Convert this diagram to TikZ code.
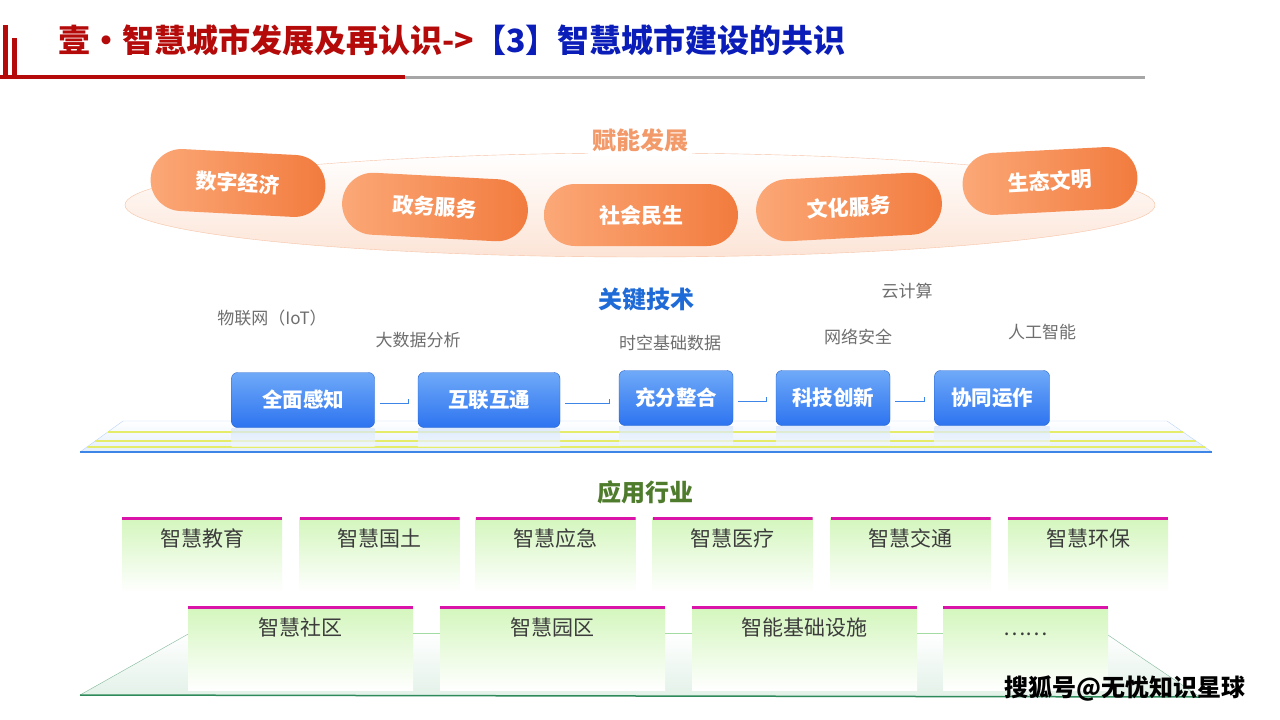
\documentclass[tikz,border=0pt]{standalone}
\usepackage{fontspec}
\setmainfont{Noto Sans CJK SC}
\usetikzlibrary{shapes.misc,calc}
\definecolor{titlered}{HTML}{B50A0A}
\definecolor{titleblue}{HTML}{0B1DB8}
\definecolor{pilllt}{HTML}{FBA877}
\definecolor{pilldk}{HTML}{F27B3E}
\definecolor{ellline}{HTML}{F7C3A6}
\definecolor{ellfill}{HTML}{FCE4D6}
\definecolor{headorange}{HTML}{F39A6A}
\definecolor{headblue}{HTML}{1E6AD6}
\definecolor{headgreen}{HTML}{4F7C2C}
\definecolor{techgrey}{HTML}{6E6E6E}
\definecolor{boxlt}{HTML}{6FA9F8}
\definecolor{boxdk}{HTML}{2D74F0}
\definecolor{platline}{HTML}{3D86E8}
\definecolor{platfill}{HTML}{E2EEFA}
\definecolor{stripe}{HTML}{E4EC6A}
\definecolor{tilegreen}{HTML}{D3F6BC}
\definecolor{tiletop}{HTML}{DA14A8}
\definecolor{tiletext}{HTML}{3C3C3C}
\definecolor{groundline}{HTML}{2E8A5A}
\definecolor{groundfill}{HTML}{E2F1E8}

\begin{document}
\begin{tikzpicture}[x=1pt,y=-1pt,
  pill/.style={rounded rectangle, minimum height=62, inner xsep=0, text=white,
    font=\bfseries\fontsize{21}{21}\selectfont, left color=pilllt, right color=pilldk},
  techbox/.style={rounded corners=6, minimum height=55, text=white,
    font=\bfseries\fontsize{20.5}{20.5}\selectfont, top color=boxlt, bottom color=boxdk,
    draw=boxdk!85!black, thin},
  techlabel/.style={text=techgrey, font=\fontsize{17}{17}\selectfont},
  head/.style={font=\bfseries\fontsize{24}{24}\selectfont},
  tile/.style n args={2}{minimum width=#1, inner xsep=0, inner ysep=8, text height=21,
    text depth=#2, text=tiletext, font=\fontsize{21}{21}\selectfont, anchor=north,
    top color=tilegreen, bottom color=white,
    path picture={\draw[tiletop, line width=6pt] (path picture bounding box.north west)
      -- (path picture bounding box.north east);}},
  link/.style={draw=platline, thin}
]
\useasboundingbox (0,0) rectangle (1280,720);
\fill[white] (0,0) rectangle (1280,720);

% header
\fill[titlered] (3,25) rectangle (8,77);
\fill[titlered] (12,38) rectangle (17,77);
\fill[gray!70] (405,76) rectangle (1145,79);
\fill[titlered] (0,75) rectangle (405,79);
\node[anchor=west, font=\bfseries\fontsize{32}{32}\selectfont] (title) at (55,40)
  {\textcolor{titlered}{壹·智慧城市发展及再认识->}\textcolor{titleblue}{【3】智慧城市建设的共识}};

% empowerment ring
\draw[ellline, top color=white, bottom color=ellfill] (640,205) ellipse [x radius=515, y radius=52];
\node[head, text=headorange, fill=white, inner sep=4] (fn) at (640,140) {赋能发展};
\foreach \px/\py/\rot/\bw/\nm/\txt in {238/183/-3/175/p1/数字经济, 435/207/-3/186/p2/政务服务,
    641/215/0/194/p3/社会民生, 849/207/3/186/p4/文化服务, 1050/181/3/175/p5/生态文明}
  \node[pill, minimum width=\bw, rotate=\rot] (\nm) at (\px,\py) {\txt};

% key technologies
\node[head, text=headblue] (gj) at (646,299) {关键技术};
\node[techlabel] (iot) at (272,318) {物联网（IoT）};
\node[techlabel] (dsj) at (418,340) {大数据分析};
\node[techlabel] (skj) at (670,343) {时空基础数据};
\node[techlabel] (yjs) at (907,291) {云计算};
\node[techlabel] (wlaq) at (858,337) {网络安全};
\node[techlabel] (rgzn) at (1042,332) {人工智能};

\shade[top color=white, bottom color=platfill, draw=platline!35] (80,452) -- (123,421) -- (1167,421) -- (1212,452) -- cycle;
\draw[stripe, line width=1.5] (108,432) -- (1183,432);
\draw[stripe, line width=1.5] (95,441) -- (1196,441);
\draw[stripe, line width=2] (87,447) -- (1205,447);
\draw[platline, line width=2] (80,452) -- (1212,452);

\foreach \bx/\by/\bw/\nm/\txt in {303/400/143/qm/全面感知, 489/400/142/hl/互联互通,
    676/398/114/cf/充分整合, 833/398/114/kj/科技创新, 992/398/115/xt/协同运作}
{
  \shade[top color=boxlt!30, bottom color=platfill!40, opacity=0.7] (\bx-\bw/2,\by+28) rectangle (\bx+\bw/2,\by+46);
  \node[techbox, minimum width=\bw] (\nm) at (\bx,\by) {\txt};
}
\foreach \a/\b in {qm/hl, hl/cf, cf/kj, kj/xt}
  \draw[link] ($(\a.east)+(5,3)$) -- ($(\a.east -| \b.west)+(-10,3)$) -- ++(0,-4);

% application fields
\node[head, text=headgreen] (yy) at (645,492) {应用行业};
\foreach \tx/\nm/\txt in {202/t1/智慧教育, 379.5/t2/智慧国土, 555.5/t3/智慧应急,
    732.5/t4/智慧医疗, 910.5/t5/智慧交通, 1088/t6/智慧环保}
  \node[tile={160}{38}] (\nm) at (\tx,517) {\txt};

\shade[top color=white, bottom color=groundfill] (80,695) -- (190,633) -- (1105,633) -- (1200,697) -- cycle;
\draw[green!45!gray!50] (190,633) -- (1105,633);
\draw[groundline!60] (80,695) -- (190,633);
\draw[groundline!60] (1105,633) -- (1200,697);
\draw[groundline, line width=1.5] (80,695) -- (1200,697);

\foreach \tx/\bw/\nm/\txt in {300.5/225/s1/智慧社区, 552.5/225/s2/智慧园区,
    804.5/225/s3/智能基础设施, 1025.5/165/s4/……}
  \node[tile={\bw}{47}] (\nm) at (\tx,606) {\txt};

\node[font=\bfseries\fontsize{24}{24}\selectfont, text=black] (wm) at (1125,689) {搜狐号@无忧知识星球};
\end{tikzpicture}
\end{document}
